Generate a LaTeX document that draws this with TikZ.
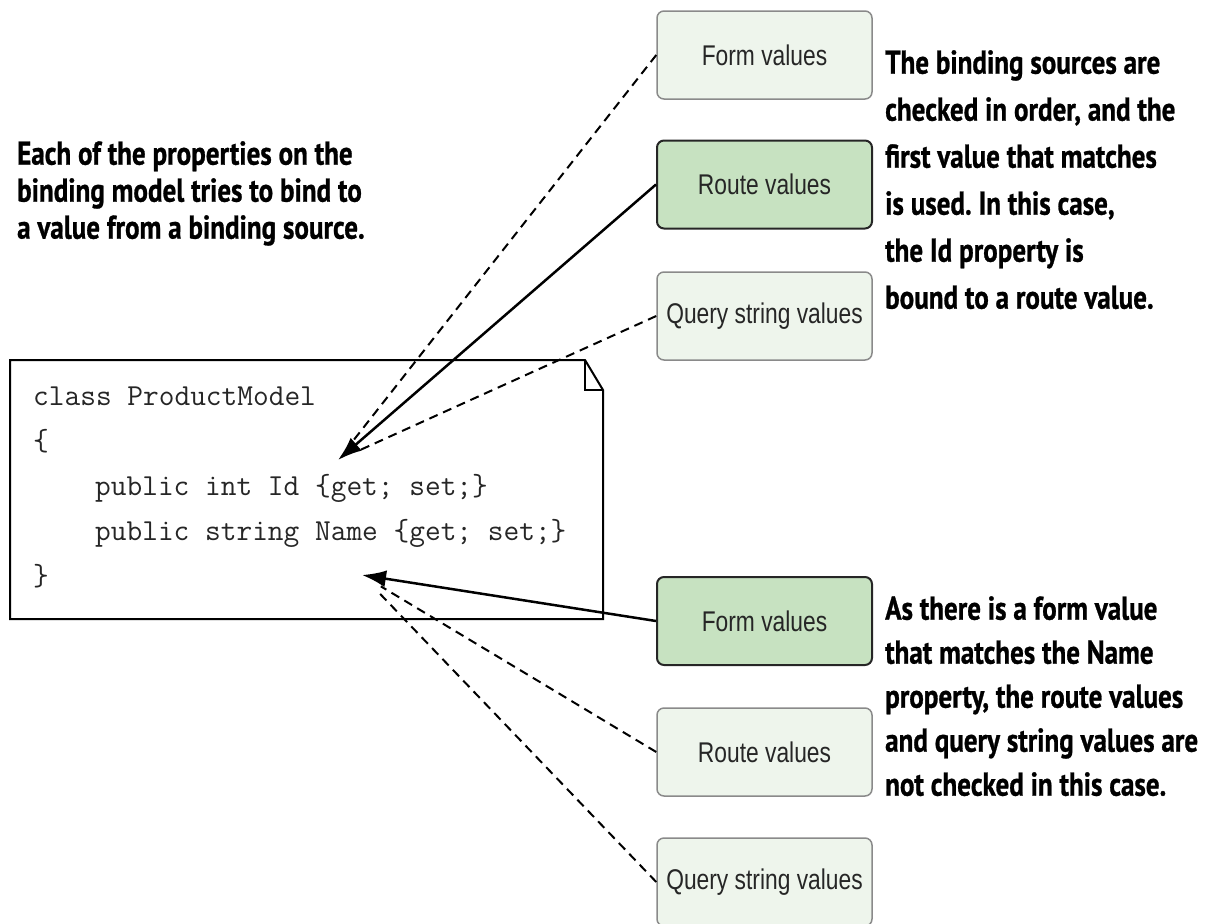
\documentclass[tikz,border=0pt]{standalone}
\usepackage{fontspec}
\setmainfont{Liberation Sans}
\newfontfamily\notefont[FakeStretch=0.82,BoldFeatures={FakeBold=0.8}]{PT Sans}
\newfontfamily\boxfont[FakeStretch=0.8]{Liberation Sans}
\usepackage{tikz}
\usetikzlibrary{arrows.meta}
\frenchspacing

\definecolor{paleGreen}{HTML}{EEF5EC}
\definecolor{midGreen}{HTML}{C7E2C1}
\definecolor{edgeGray}{HTML}{8A8A8A}

\begin{document}
\begin{tikzpicture}[x=1pt,y=-1pt,>={Latex[length=24pt,width=17pt]},
  source/.style={draw=edgeGray,line width=1.5pt,fill=paleGreen,rounded corners=7pt,
    minimum width=215pt,minimum height=88pt,inner sep=0pt,text=black!85,
    font=\boxfont\fontsize{28.5}{32}\selectfont},
  chosen/.style={source,draw=black!85,line width=2pt,fill=midGreen},
  note/.style={align=left,anchor=north west,inner sep=0pt,
    font=\notefont\bfseries\fontsize{33}{47}\selectfont},
  codeline/.style={anchor=base west,inner sep=0pt,text=black!85,
    font=\ttfamily\fontsize{30.5}{34}\selectfont},
  tried/.style={line width=2pt,dash pattern=on 9pt off 6pt,shorten >=22pt},
  bound/.style={->,line width=2.5pt}]
  \useasboundingbox (0,0) rectangle (1208,924);

  % the model
  \draw[line width=2pt,fill=white] (10,360) -- (585,360) -- (603,390) -- (603,619) -- (10,619) -- cycle;
  \draw[line width=2pt] (585,360) -- (585,390) -- (603,390);
  \node[codeline] (code1) at (33,405) {class ProductModel};
  \node[codeline] (code2) at (33,450) {\{};
  \node[codeline] (code3) at (95,495) {public int Id \{get; set;\}};
  \node[codeline] (code4) at (95,540) {public string Name \{get; set;\}};
  \node[codeline] (code5) at (33,585) {\}};
  \coordinate (idTip) at (338,460);
  \coordinate (nameTip) at (362,575);

  % binding sources
  \node[source] (formTop) at (764.5,55) {Form values};
  \node[chosen] (routeTop) at (764.5,184.5) {Route values};
  \node[source] (queryTop) at (764.5,316) {Query string values};
  \node[chosen] (formBottom) at (764.5,621) {Form values};
  \node[source] (routeBottom) at (764.5,752) {Route values};
  \node[source] (queryBottom) at (764.5,882) {Query string values};

  \draw[tried] (formTop.west) -- (idTip);
  \draw[tried] (queryTop.west) -- (idTip);
  \draw[bound] (routeTop.west) -- (idTip);
  \draw[tried] (routeBottom.west) -- (nameTip);
  \draw[tried] (queryBottom.west) -- (nameTip);
  \draw[bound] (formBottom.west) -- (nameTip);

  \node[note,font=\notefont\bfseries\fontsize{33}{37}\selectfont] (modelNote) at (17,141) {Each of the properties on the\\binding model tries to bind to\\a value from a binding source.};
  \node[note] (orderNote) at (885,50) {The binding sources are\\checked in order, and the\\first value that matches\\is used. In this case,\\the Id property is\\bound to a route value.};
  \node[note,font=\notefont\bfseries\fontsize{33}{44}\selectfont] (nameNote) at (885,596) {As there is a form value\\that matches the Name\\property, the route values\\and query string values are\\not checked in this case.};
\end{tikzpicture}
\end{document}
